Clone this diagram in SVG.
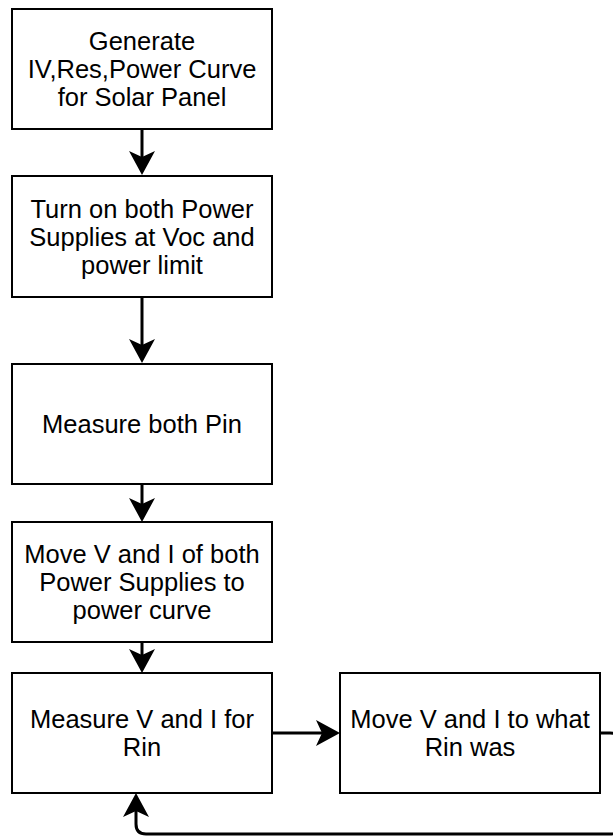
<svg xmlns="http://www.w3.org/2000/svg" width="613" height="837" viewBox="0 0 613 837">
  <style>
    .box { fill: #ffffff; stroke: #000000; stroke-width: 2; }
    .lbl { font-family: "Liberation Sans", Arial, sans-serif; font-size: 25.5px; fill: #000000; text-anchor: middle; }
    .edge { fill: none; stroke: #000000; stroke-width: 3; }
  </style>
  <defs>
    <marker id="arrow" viewBox="0 0 24 26" refX="10" refY="13" markerWidth="24" markerHeight="26" markerUnits="userSpaceOnUse" orient="auto">
      <path d="M0,0 L24,13 L0,26 L6,13 Z" fill="#000000"/>
    </marker>
  </defs>
  <rect width="613" height="837" fill="#ffffff"/>

  <g id="connectors">
    <path class="edge" d="M142,129 L142,161" marker-end="url(#arrow)"/>
    <path class="edge" d="M142,297 L142,349" marker-end="url(#arrow)"/>
    <path class="edge" d="M142,484 L142,508" marker-end="url(#arrow)"/>
    <path class="edge" d="M142,642 L142,659" marker-end="url(#arrow)"/>
    <path class="edge" d="M272,733 L326,733" marker-end="url(#arrow)"/>
    <path class="edge" d="M600,733 L610,733 Q620,733 620,743 L620,824 Q620,834 610,834 L146,834 Q136,834 136,824 L136,807" marker-end="url(#arrow)"/>
  </g>

  <g id="generate">
    <rect class="box" x="12" y="9" width="260" height="120"/>
    <text class="lbl" x="142" y="50">Generate</text>
    <text class="lbl" x="142" y="78">IV,Res,Power Curve</text>
    <text class="lbl" x="142" y="106">for Solar Panel</text>
  </g>

  <g id="turn-on">
    <rect class="box" x="12" y="176" width="260" height="121"/>
    <text class="lbl" x="142" y="218">Turn on both Power</text>
    <text class="lbl" x="142" y="246">Supplies at Voc and</text>
    <text class="lbl" x="142" y="274">power limit</text>
  </g>

  <g id="measure-pin">
    <rect class="box" x="12" y="364" width="260" height="120"/>
    <text class="lbl" x="142" y="433">Measure both Pin</text>
  </g>

  <g id="move-to-curve">
    <rect class="box" x="12" y="522" width="260" height="120"/>
    <text class="lbl" x="142" y="563">Move V and I of both</text>
    <text class="lbl" x="142" y="591">Power Supplies to</text>
    <text class="lbl" x="142" y="619">power curve</text>
  </g>

  <g id="measure-rin">
    <rect class="box" x="12" y="673" width="260" height="120"/>
    <text class="lbl" x="142" y="728">Measure V and I for</text>
    <text class="lbl" x="142" y="756">Rin</text>
  </g>

  <g id="move-to-rin">
    <rect class="box" x="340" y="673" width="260" height="120"/>
    <text class="lbl" x="470" y="728">Move V and I to what</text>
    <text class="lbl" x="470" y="756">Rin was</text>
  </g>
</svg>
